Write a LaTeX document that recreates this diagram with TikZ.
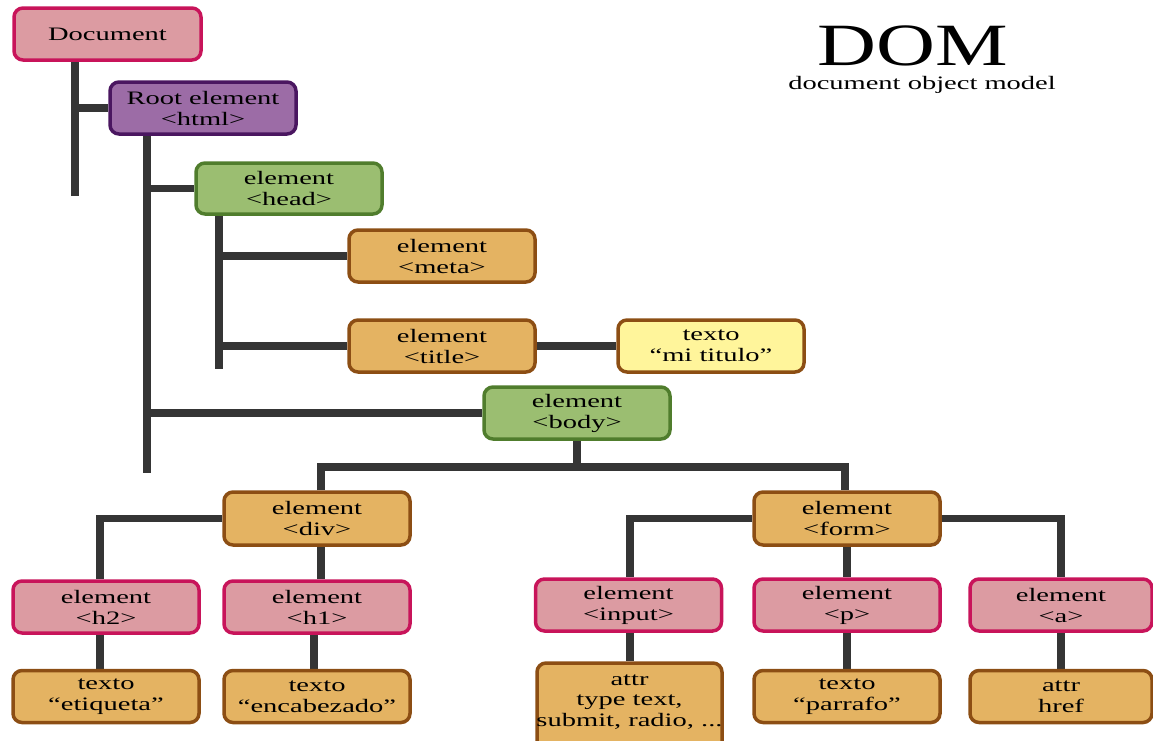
\documentclass[tikz,border=0pt]{standalone}
\usepackage{fontspec}
\setmainfont{Liberation Serif}[FakeStretch=1.5]
\newfontfamily\titlefont{Liberation Serif}[FakeStretch=1.36]
\usetikzlibrary{backgrounds}

\definecolor{pinkfill}{HTML}{DC9BA2}
\definecolor{pinkline}{HTML}{C8145A}
\definecolor{purplefill}{HTML}{9C6CA6}
\definecolor{purpleline}{HTML}{4A1660}
\definecolor{greenfill}{HTML}{9BBE71}
\definecolor{greenline}{HTML}{507D2D}
\definecolor{orangefill}{HTML}{E4B362}
\definecolor{orangeline}{HTML}{8C4E14}
\definecolor{yellowfill}{HTML}{FFF59B}
\definecolor{linkgray}{HTML}{353535}

\tikzset{
  box/.style={rounded corners=9pt, line width=3.5pt, minimum width=186pt,
    minimum height=52pt, inner sep=0pt, align=center,
    font=\fontsize{19}{21}\selectfont},
  pinkbox/.style={box, fill=pinkfill, draw=pinkline},
  purplebox/.style={box, fill=purplefill, draw=purpleline},
  greenbox/.style={box, fill=greenfill, draw=greenline},
  orangebox/.style={box, fill=orangefill, draw=orangeline},
  yellowbox/.style={box, fill=yellowfill, draw=orangeline},
  link/.style={draw=linkgray, line width=7.5pt, line join=miter, line cap=butt},
}

\begin{document}
\begin{tikzpicture}[x=1pt, y=-1pt]
  \useasboundingbox (0,0) rectangle (1153,740);
  \clip (0,0) rectangle (1153,740);

  % title
  \node[anchor=base, inner sep=0pt, text depth=0pt, font=\titlefont\fontsize{60}{60}\selectfont] (dom) at (913,65) {DOM};
  \node[anchor=base, inner sep=0pt, text height=13pt, font=\fontsize{19}{21}\selectfont] (domsub) at (922,89) {document object model};

  % tree nodes
  \node[pinkbox, minimum width=187pt] (doc) at (107.5,34) {Document};
  \node[purplebox] (root) at (203,108) {Root element\\<html>};
  \node[greenbox, minimum height=51pt] (head) at (289,188.5) {element\\<head>};
  \node[orangebox] (meta) at (442,256) {element\\<meta>};
  \node[orangebox] (title) at (442,346) {element\\<title>};
  \node[yellowbox] (titulo) at (711,346) {texto\\“mi titulo”};
  \node[greenbox] (body) at (577,413) {element\\<body>};

  \node[orangebox, minimum height=53pt] (div) at (317,518.5) {element\\<div>};
  \node[orangebox, minimum height=53pt] (form) at (847,518.5) {element\\<form>};

  \node[pinkbox] (h2) at (106,607) {element\\<h2>};
  \node[pinkbox] (h1) at (317,607) {element\\<h1>};
  \node[pinkbox] (input) at (628.5,605) {element\\<input>};
  \node[pinkbox] (p) at (847,605) {element\\<p>};
  \node[pinkbox, minimum width=182pt] (a) at (1061,605) {element\\<a>};

  \node[orangebox] (etiq) at (106,696.5) {texto\\“etiqueta”};
  \node[orangebox] (encab) at (317,696.5) {texto\\“encabezado”};
  \node[orangebox, minimum width=185pt, minimum height=92pt] (attrbox) at (629.5,709) {};
  \node[inner sep=0pt, align=center, font=\fontsize{19}{20.5}\selectfont] (attrtxt) at (629.5,702) {attr\\type text,\\submit, radio, ...};
  \node[orangebox] (parrafo) at (847,696.5) {texto\\“parrafo”};
  \node[orangebox, minimum width=182pt] (href) at (1061,696.5) {attr\\href};

  % free ends of the vertical trunks
  \coordinate (docend) at (75,196);
  \coordinate (rootend) at (147,473);
  \coordinate (headend) at (219,369);
  \coordinate (bus) at (577,467);

  \begin{pgfonlayer}{background}
    % Document -> html
    \draw[link] (docend |- doc.south) -- (docend);
    \draw[link] (docend |- root.west) -- (root.west);
    % html -> head, body
    \draw[link] (rootend |- root.south) -- (rootend);
    \draw[link] (rootend |- head.west) -- (head.west);
    \draw[link] (rootend |- body.west) -- (body.west);
    % head -> meta, title
    \draw[link] (headend |- head.south) -- (headend);
    \draw[link] (headend |- meta.west) -- (meta.west);
    \draw[link] (headend |- title.west) -- (title.west);
    \draw[link] (title.east) -- (titulo.west);
    % body -> div, form
    \draw[link] (body.south) -- (bus);
    \draw[link] ([xshift=4pt]div.north) -- ([xshift=4pt]div.north |- bus)
                -- ([xshift=-2pt]form.north |- bus) -- ([xshift=-2pt]form.north);
    % div -> h2, h1
    \draw[link] (div.west) -| ([xshift=-6pt]h2.north);
    \draw[link] ([xshift=4pt]div.south) -- ([xshift=4pt]div.south |- h1.north);
    % form -> input, p, a
    \draw[link] (form.west) -| ([xshift=1.5pt]input.north);
    \draw[link] (form.south) -- (p.north);
    \draw[link] (form.east) -| (a.north);
    % leaves
    \draw[link] ([xshift=-6pt]h2.south) -- ([xshift=-6pt]etiq.north);
    \draw[link] ([xshift=-3pt]h1.south) -- ([xshift=-3pt]encab.north);
    \draw[link] ([xshift=1.5pt]input.south) -- ([xshift=1.5pt]input.south |- attrbox.north);
    \draw[link] (p.south) -- (parrafo.north);
    \draw[link] (a.south) -- (href.north);
  \end{pgfonlayer}
\end{tikzpicture}
\end{document}
